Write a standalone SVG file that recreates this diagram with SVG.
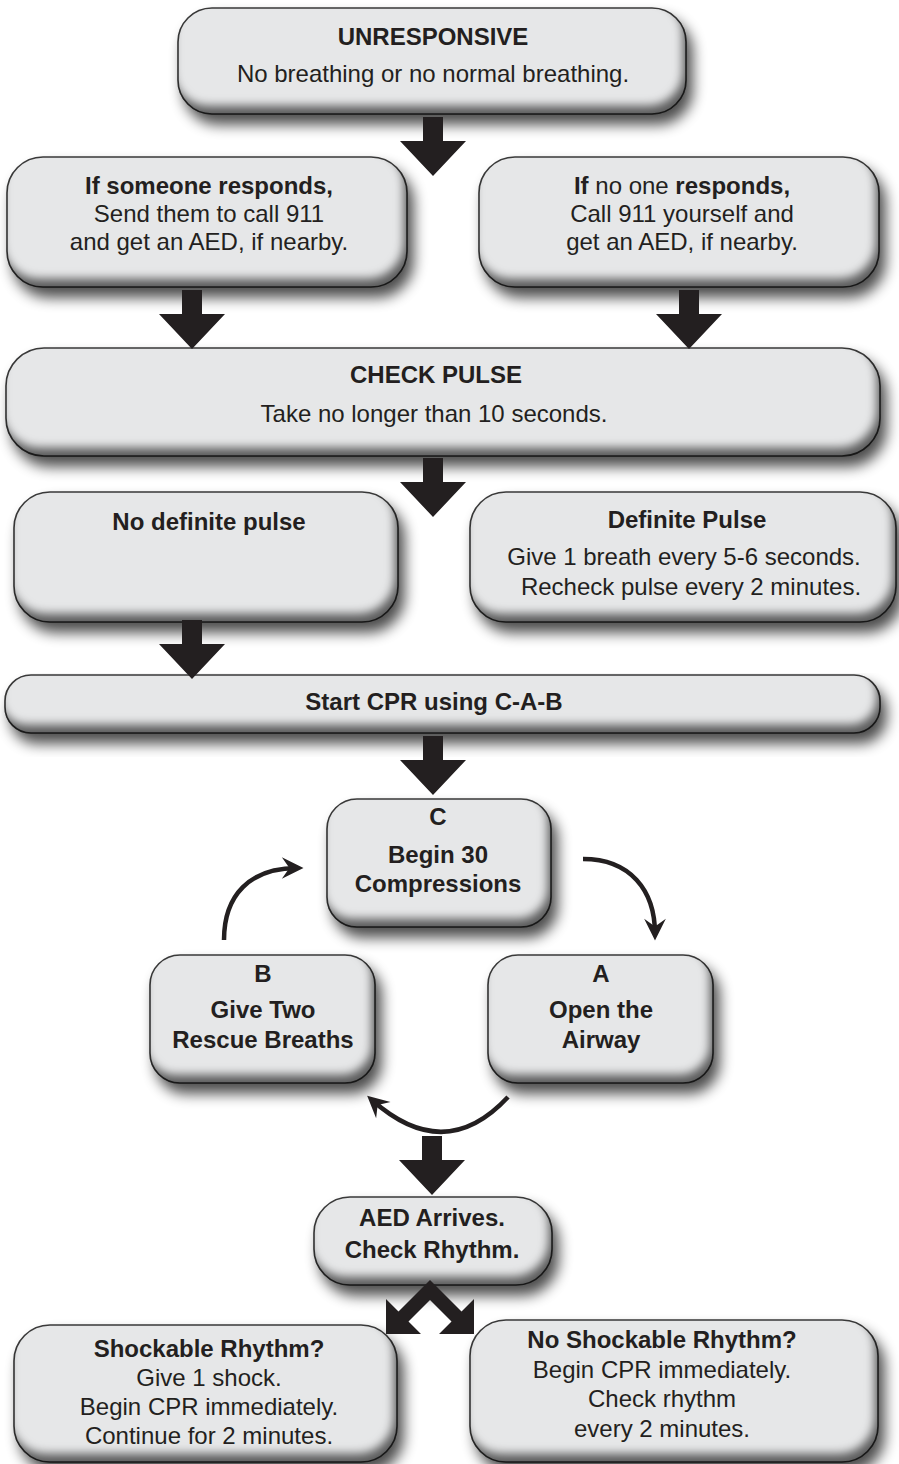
<svg xmlns="http://www.w3.org/2000/svg" width="899" height="1464" viewBox="0 0 899 1464">
<style>
.t{font-family:"Liberation Sans",Arial,Helvetica,sans-serif;font-size:24px;fill:#231f20;text-anchor:middle}
.b{font-weight:bold}
.box{fill:#e6e7e8;stroke:#3a3a3a;stroke-width:1.6;filter:url(#bev)}
.big{fill:#231f20}
.curve{fill:none;stroke:#231f20;stroke-width:4.5}
</style>
<defs>
<filter id="bev" x="-0.08" y="-0.2" width="1.2" height="1.6" color-interpolation-filters="sRGB">
<feGaussianBlur in="SourceAlpha" stdDeviation="7" result="blur"/>
<feOffset in="blur" dx="6" dy="10" result="off"/>
<feComponentTransfer in="off" result="shadow"><feFuncA type="linear" slope="0.7"/></feComponentTransfer>
<feOffset in="SourceAlpha" dx="-4" dy="-9" result="io"/>
<feGaussianBlur in="io" stdDeviation="5" result="ib"/>
<feComposite in="SourceAlpha" in2="ib" operator="out" result="inner"/>
<feFlood flood-color="#000" flood-opacity="0.6" result="fl"/>
<feComposite in="fl" in2="inner" operator="in" result="innerShadow"/>
<feMerge><feMergeNode in="shadow"/><feMergeNode in="SourceGraphic"/><feMergeNode in="innerShadow"/></feMerge>
</filter>
<path id="bigArrow" d="M-10,0 H10 V24 H33 L0,59 L-33,24 H-10 Z"/>
<marker id="barb" markerUnits="userSpaceOnUse" markerWidth="26" markerHeight="26" viewBox="-22 -12 24 24" refX="-6" refY="0" orient="auto">
<path d="M0,0 L-20,-10 L-13,0 L-20,10 Z" fill="#231f20"/>
</marker>
</defs>

<g id="node-unresponsive">
<rect class="box" x="178" y="8" width="508" height="106" rx="34"/>
<text class="t b" x="433" y="45">UNRESPONSIVE</text>
<text class="t" x="433" y="82">No breathing or no normal breathing.</text>
</g>

<g id="node-someone-responds">
<rect class="box" x="7" y="157" width="400" height="130" rx="36"/>
<text class="t b" x="209" y="194">If someone responds,</text>
<text class="t" x="209" y="222">Send them to call 911</text>
<text class="t" x="209" y="250">and get an AED, if nearby.</text>
</g>

<g id="node-no-one-responds">
<rect class="box" x="479" y="157" width="400" height="130" rx="36"/>
<text class="t" x="682" y="194"><tspan class="b">If</tspan> no one <tspan class="b">responds,</tspan></text>
<text class="t" x="682" y="222">Call 911 yourself and</text>
<text class="t" x="682" y="250">get an AED, if nearby.</text>
</g>

<g id="node-check-pulse">
<rect class="box" x="6" y="348" width="874" height="108" rx="38"/>
<text class="t b" x="436" y="383">CHECK PULSE</text>
<text class="t" x="434" y="422">Take no longer than 10 seconds.</text>
</g>

<g id="node-no-definite-pulse">
<rect class="box" x="14" y="492" width="384" height="130" rx="36"/>
<text class="t b" x="209" y="530">No definite pulse</text>
</g>

<g id="node-definite-pulse">
<rect class="box" x="470" y="492" width="426" height="130" rx="36"/>
<text class="t b" x="687" y="528">Definite Pulse</text>
<text class="t" x="684" y="565">Give 1 breath every 5-6 seconds.</text>
<text class="t" x="691" y="595">Recheck pulse every 2 minutes.</text>
</g>

<g id="node-start-cpr">
<rect class="box" x="5" y="675" width="875" height="58" rx="26"/>
<text class="t b" x="434" y="710">Start CPR using C-A-B</text>
</g>

<g id="node-c">
<rect class="box" x="327" y="799" width="224" height="128" rx="30"/>
<text class="t b" x="438" y="825">C</text>
<text class="t b" x="438" y="863">Begin 30</text>
<text class="t b" x="438" y="892">Compressions</text>
</g>

<g id="node-b">
<rect class="box" x="150" y="955" width="225" height="128" rx="30"/>
<text class="t b" x="263" y="982">B</text>
<text class="t b" x="263" y="1018">Give Two</text>
<text class="t b" x="263" y="1048">Rescue Breaths</text>
</g>

<g id="node-a">
<rect class="box" x="488" y="955" width="225" height="128" rx="30"/>
<text class="t b" x="601" y="982">A</text>
<text class="t b" x="601" y="1018">Open the</text>
<text class="t b" x="601" y="1048">Airway</text>
</g>

<g id="node-aed">
<rect class="box" x="314" y="1197" width="238" height="88" rx="36"/>
<text class="t b" x="432" y="1226">AED Arrives.</text>
<text class="t b" x="432" y="1258">Check Rhythm.</text>
</g>

<g id="node-shockable">
<rect class="box" x="14" y="1325" width="383" height="137" rx="36"/>
<text class="t b" x="209" y="1357">Shockable Rhythm?</text>
<text class="t" x="209" y="1386">Give 1 shock.</text>
<text class="t" x="209" y="1415">Begin CPR immediately.</text>
<text class="t" x="209" y="1444">Continue for 2 minutes.</text>
</g>

<g id="node-no-shockable">
<rect class="box" x="470" y="1320" width="408" height="142" rx="36"/>
<text class="t b" x="662" y="1348">No Shockable Rhythm?</text>
<text class="t" x="662" y="1378">Begin CPR immediately.</text>
<text class="t" x="662" y="1407">Check rhythm</text>
<text class="t" x="662" y="1437">every 2 minutes.</text>
</g>

<g id="connectors">
<use href="#bigArrow" class="big" transform="translate(433,117)"/>
<use href="#bigArrow" class="big" transform="translate(192,290)"/>
<use href="#bigArrow" class="big" transform="translate(689,290)"/>
<use href="#bigArrow" class="big" transform="translate(433,458)"/>
<use href="#bigArrow" class="big" transform="translate(192,620)"/>
<use href="#bigArrow" class="big" transform="translate(433,736)"/>
<use href="#bigArrow" class="big" transform="translate(432,1136)"/>
<path class="curve" d="M224,940 C224,895 250,868 297,868" marker-end="url(#barb)"/>
<path class="curve" d="M583,859 C630,859 655,890 655,934" marker-end="url(#barb)"/>
<path class="curve" d="M508,1097 Q445,1165 372,1100" marker-end="url(#barb)"/>
<polygon class="big" points="430,1280 398.5,1311.5 386,1299 386,1334 421,1334 408.5,1321.5 430,1300 451.5,1321.5 439,1334 474,1334 474,1299 461.5,1311.5"/>
</g>
</svg>
